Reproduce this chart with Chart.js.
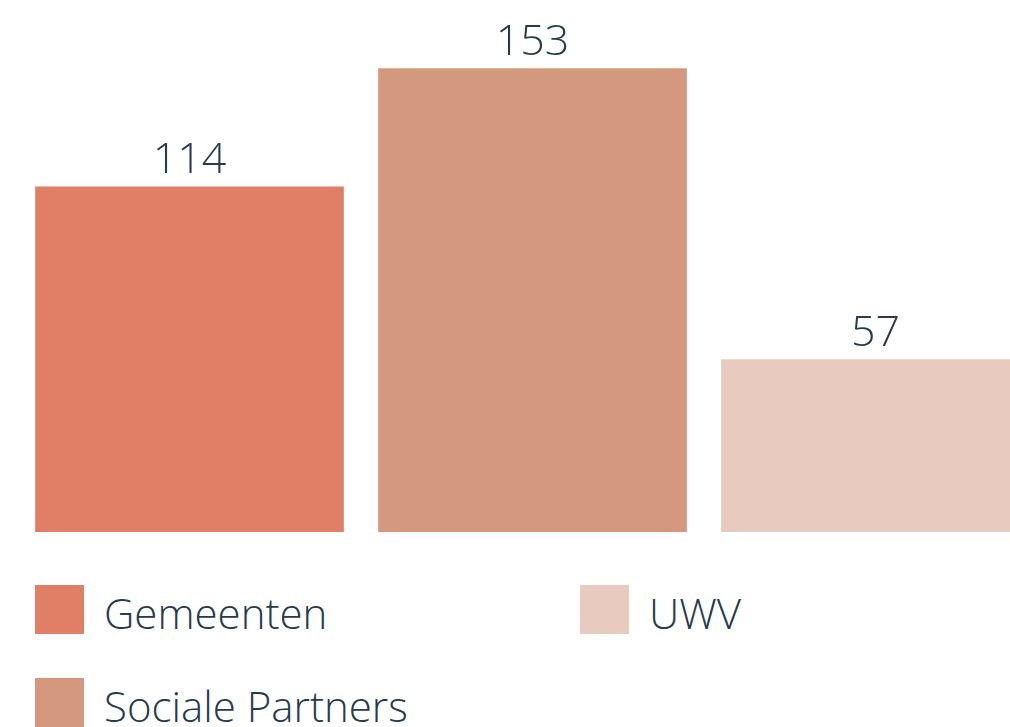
<!DOCTYPE html>
<html><head><meta charset="utf-8">
<script src="https://cdn.jsdelivr.net/npm/chart.js@4/dist/chart.umd.min.js"></script>
<style>
html,body{margin:0;padding:0;background:#fff;width:1010px;height:727px;overflow:hidden;position:relative;}
#wrap{position:absolute;left:0;top:0;width:1060px;height:560px;}
.leg{position:absolute;font-family:"Open Sans",sans-serif;font-weight:300;font-size:42px;color:#263b4f;line-height:1;white-space:nowrap;}
.sw{position:absolute;width:49px;height:49px;}
</style></head>
<body>
<div id="wrap"><canvas id="c" width="1060" height="560"></canvas></div>
<div id="legend"></div>
<script>
const categories = ["Gemeenten", "Sociale Partners", "UWV"];
const values = [114, 153, 57];
const colors = ["#e07f65", "#d4987e", "#e8cabe"];

const labelPlugin = {
  id: 'vlabels',
  afterDatasetsDraw(chart) {
    const ctx = chart.ctx;
    const meta = chart.getDatasetMeta(0);
    ctx.save();
    ctx.font = '300 43px "Open Sans", sans-serif';
    ctx.fillStyle = '#263b4f';
    ctx.textAlign = 'center';
    ctx.textBaseline = 'alphabetic';
    meta.data.forEach((bar, i) => {
      ctx.fillText(String(values[i]), bar.x, bar.y - 13);
    });
    ctx.restore();
  }
};

new Chart(document.getElementById('c'), {
  type: 'bar',
  data: {
    labels: categories,
    datasets: [{ data: values, backgroundColor: colors, borderWidth: 0,
      barPercentage: 0.9, categoryPercentage: 1.0 }]
  },
  options: {
    responsive: false,
    animation: false,
    layout: { padding: { left: 18, right: 13, top: 47, bottom: 28 } },
    plugins: { legend: { display: false }, tooltip: { enabled: false } },
    scales: {
      x: { display: false },
      y: { display: false, min: 0, max: 160 }
    }
  },
  plugins: [labelPlugin]
});

// legend
const legPos = [[35, 585], [35, 678], [580, 585]];
const lg = document.getElementById('legend');
categories.forEach((c, i) => {
  const [x, y] = legPos[i];
  const s = document.createElement('div');
  s.className = 'sw'; s.style.left = x + 'px'; s.style.top = y + 'px'; s.style.background = colors[i];
  lg.appendChild(s);
  const t = document.createElement('div');
  t.className = 'leg'; t.textContent = c;
  t.style.left = (x + 69) + 'px'; t.style.top = (y + 7) + 'px';
  lg.appendChild(t);
});
</script>
</body></html>
